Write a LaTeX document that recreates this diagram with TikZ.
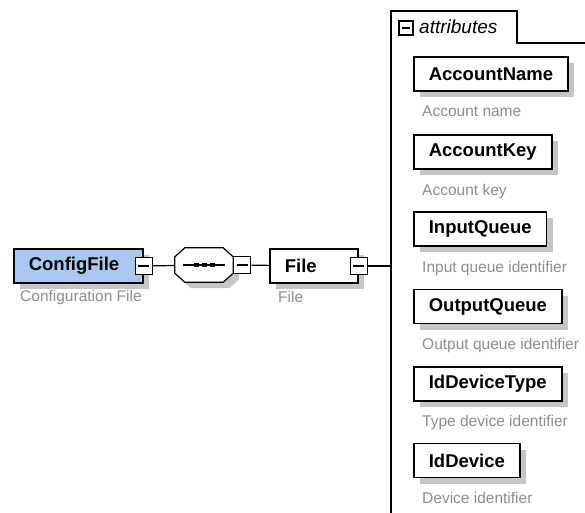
\documentclass[tikz,border=0pt]{standalone}
\usepackage{fontspec}
\setmainfont{Liberation Sans}
\usetikzlibrary{shadows}
\definecolor{typeblue}{HTML}{A9C9F1}
\definecolor{docgray}{HTML}{8E8E8E}
\definecolor{shadegray}{HTML}{C6C6C6}

\begin{document}
\begin{tikzpicture}[x=1pt,y=-1pt,
    link/.style={line width=1.2pt},
    boxshadow/.style={drop shadow={shadow xshift=6pt,shadow yshift=-6pt,fill=shadegray,opacity=1}},
    elem/.style={draw,line width=1.6pt,fill=white,minimum height=34pt,inner xsep=15pt,
        font=\fontsize{18.5}{22}\selectfont\bfseries,boxshadow},
    seqbox/.style={minimum width=58pt,minimum height=34pt,inner sep=0pt},
    minusbox/.style={draw,line width=1.2pt,fill=white,minimum size=17pt,inner sep=0pt,
        path picture={\draw[line width=1.2pt] ([xshift=3pt]path picture bounding box.west)
            -- ([xshift=-3pt]path picture bounding box.east);}},
    doc/.style={anchor=west,text=docgray,inner sep=0pt,font=\fontsize{15.5}{18}\selectfont}]
\useasboundingbox (0,0) rectangle (585,512);

\node[elem,fill=typeblue,anchor=west,text width=99pt,align=left] (ConfigFile) at (13,266) {ConfigFile};
\node[minusbox] (ConfigFileMinus) at (ConfigFile.east) {};
\node[doc] (ConfigFileDoc) at (20,297) {Configuration File};

\node[seqbox] (Sequence) at (204,265) {};
\draw[link,fill=white,boxshadow] ([xshift=10pt]Sequence.north west) -- ([xshift=-10pt]Sequence.north east)
    -- ([yshift=-9pt]Sequence.north east) -- ([yshift=9pt]Sequence.south east)
    -- ([xshift=-10pt]Sequence.south east) -- ([xshift=10pt]Sequence.south west)
    -- ([yshift=9pt]Sequence.south west) -- ([yshift=-9pt]Sequence.north west) -- cycle;
\node[minusbox,anchor=west] (SequenceMinus) at (Sequence.east) {};
\draw[link] ([xshift=8pt]Sequence.west) -- ([xshift=-8pt]Sequence.east);
\fill (193.5,263) rectangle +(5,4);
\fill (201.5,263) rectangle +(5,4);
\fill (209.5,263) rectangle +(5,4);

\node[elem,anchor=west,text width=58pt,align=left] (File) at (269,266) {File};
\node[minusbox] (FileMinus) at (File.east) {};
\node[doc] (FileDoc) at (278,297) {File};

\coordinate (GroupTop) at (391,11);
\draw[link] (391,520) -- (GroupTop) -- (517,11) -- (517,43) -- (590,43);
\node[minusbox,minimum size=14pt] (AttrMinus) at (406,28) {};
\node[anchor=west,inner sep=0pt,font=\fontsize{19}{22}\selectfont\itshape] (AttrLabel) at (419,27) {attributes};

\draw[link] (ConfigFileMinus) -- (Sequence);
\draw[link] (SequenceMinus) -- (File);
\draw[link] (FileMinus.east) -- (FileMinus.east -| GroupTop);

\node[elem,anchor=west] (AccountName) at (413,74) {AccountName};
\node[doc] (AccountNameDoc) at (422,111) {Account name};
\node[elem,anchor=west] (AccountKey) at (413,152) {AccountKey};
\node[doc] (AccountKeyDoc) at (422,191) {Account key};
\node[elem,anchor=west] (InputQueue) at (413,229) {InputQueue};
\node[doc] (InputQueueDoc) at (422,268) {Input queue identifier};
\node[elem,anchor=west] (OutputQueue) at (413,306.5) {OutputQueue};
\node[doc] (OutputQueueDoc) at (422,345) {Output queue identifier};
\node[elem,anchor=west] (IdDeviceType) at (413,384) {IdDeviceType};
\node[doc] (IdDeviceTypeDoc) at (422,422) {Type device identifier};
\node[elem,anchor=west] (IdDevice) at (413,460.5) {IdDevice};
\node[doc] (IdDeviceDoc) at (422,498) {Device identifier};
\end{tikzpicture}
\end{document}
